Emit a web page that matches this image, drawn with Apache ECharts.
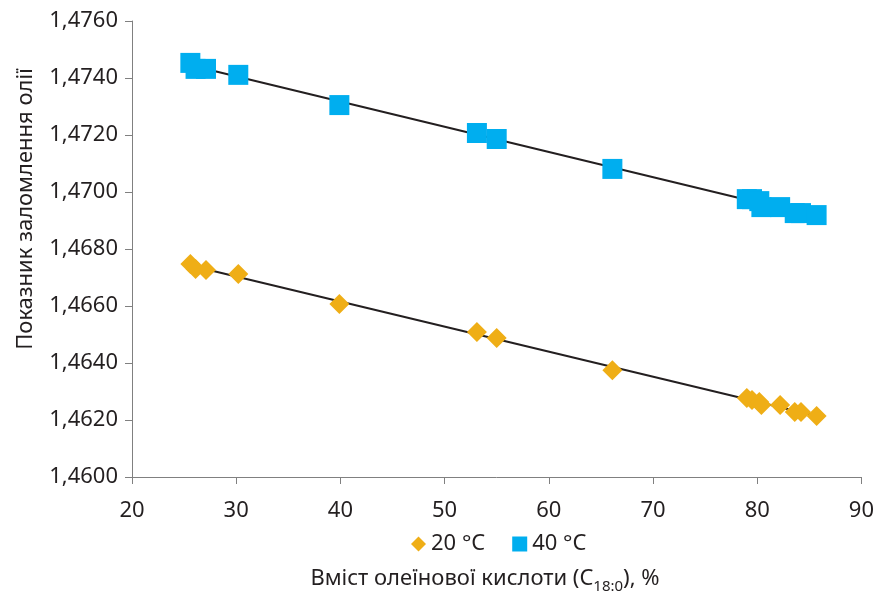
<!DOCTYPE html>
<html>
<head>
<meta charset="utf-8">
<script src="https://cdn.jsdelivr.net/npm/echarts@6/dist/echarts.min.js"></script>
<style>html,body{margin:0;padding:0;background:#fff}#c{width:877px;height:593px}</style>
</head>
<body>
<div id="c"></div>
<script>
// Oleic acid content, % (same samples at both temperatures)
const oleic = [25.6, 26.1, 27.1, 30.2, 39.9, 53.1, 55.0, 66.1, 79.0, 79.5, 80.2, 80.4, 82.2, 83.6, 84.2, 85.7];
// Refractive index at 20 °C
const ri20 = [1.46747, 1.46730, 1.46726, 1.46712, 1.46607, 1.46509, 1.46488, 1.46375, 1.46277, 1.46270, 1.46263, 1.46253, 1.46253, 1.46228, 1.46228, 1.46214];
// Refractive index at 40 °C
const ri40 = [1.47453, 1.47432, 1.47432, 1.47411, 1.47305, 1.47207, 1.47186, 1.47081, 1.46975, 1.46975, 1.46968, 1.46947, 1.46947, 1.46926, 1.46926, 1.46919];
const seriesNames = ['20 °C', '40 °C'];
const xTicks = {min: 20, max: 90, interval: 10};
const yTicks = {min: 1.4600, max: 1.4760, interval: 0.0020};

function fit(xs, ys) {
  const n = xs.length;
  let sx = 0, sy = 0, sxx = 0, sxy = 0;
  for (let i = 0; i < n; i++) { sx += xs[i]; sy += ys[i]; sxx += xs[i] * xs[i]; sxy += xs[i] * ys[i]; }
  const b = (n * sxy - sx * sy) / (n * sxx - sx * sx);
  const a = (sy - b * sx) / n;
  const x0 = Math.min(...xs), x1 = Math.max(...xs);
  return [[x0, a + b * x0], [x1, a + b * x1]];
}
const pairs = (xs, ys) => xs.map((x, i) => [x, ys[i]]);

const FONT = '"Noto Sans", sans-serif';
const TXT = '#231f20';
const chart = echarts.init(document.getElementById('c'));
chart.setOption({
  animation: false,
  grid: {left: 132, right: 15, top: 21, bottom: 116, containLabel: false},
  legend: {
    data: seriesNames,
    left: 406, top: 528,
    itemWidth: 15, itemHeight: 15, itemGap: 27,
    textStyle: {fontFamily: FONT, fontSize: 22, color: TXT}
  },
  xAxis: {
    type: 'value', min: xTicks.min, max: xTicks.max, interval: xTicks.interval,
    splitLine: {show: false},
    axisLine: {show: true, lineStyle: {color: '#808080', width: 1}},
    axisTick: {show: true, length: 7, lineStyle: {color: '#808080'}},
    axisLabel: {fontFamily: FONT, fontSize: 22, color: TXT, margin: 23}
  },
  yAxis: {
    type: 'value', min: yTicks.min, max: yTicks.max, interval: yTicks.interval,
    splitLine: {show: false},
    axisLine: {show: true, lineStyle: {color: '#808080', width: 1}},
    axisTick: {show: true, length: 7, lineStyle: {color: '#808080'}},
    axisLabel: {fontFamily: FONT, fontSize: 22, color: TXT, margin: 14,
      formatter: v => v.toFixed(4).replace('.', ',')}
  },
  series: [
    {name: 'trend20', type: 'line', data: fit(oleic, ri20), showSymbol: false, silent: true,
     lineStyle: {color: '#231f20', width: 2}, z: 1},
    {name: 'trend40', type: 'line', data: fit(oleic, ri40), showSymbol: false, silent: true,
     lineStyle: {color: '#231f20', width: 2}, z: 1},
    {name: seriesNames[0], type: 'scatter', symbol: 'diamond', symbolSize: 20,
     itemStyle: {color: '#EFAE16', opacity: 1}, data: pairs(oleic, ri20), z: 3},
    {name: seriesNames[1], type: 'scatter', symbol: 'rect', symbolSize: 20,
     itemStyle: {color: '#00AEEF', opacity: 1}, data: pairs(oleic, ri40), z: 3}
  ],
  graphic: [
    {type: 'text', x: 26, y: 209, rotation: Math.PI / 2,
     style: {text: 'Показник заломлення олії', fontFamily: FONT, fontSize: 22, fill: TXT,
       align: 'center', verticalAlign: 'middle'}},
    {type: 'text', x: 485, y: 581,
     style: {text: '{m|Вміст олеїнової кислоти (C}{s|18:0}{m|), %}', align: 'center', verticalAlign: 'middle',
       rich: {
         m: {fontFamily: FONT, fontSize: 22, fill: TXT, color: TXT, lineHeight: 26, verticalAlign: 'top'},
         s: {fontFamily: FONT, fontSize: 15, fill: TXT, color: TXT, lineHeight: 15, padding: [11, 0, 0, 0], verticalAlign: 'top'}
       }}}
  ]
});
</script>
</body>
</html>
